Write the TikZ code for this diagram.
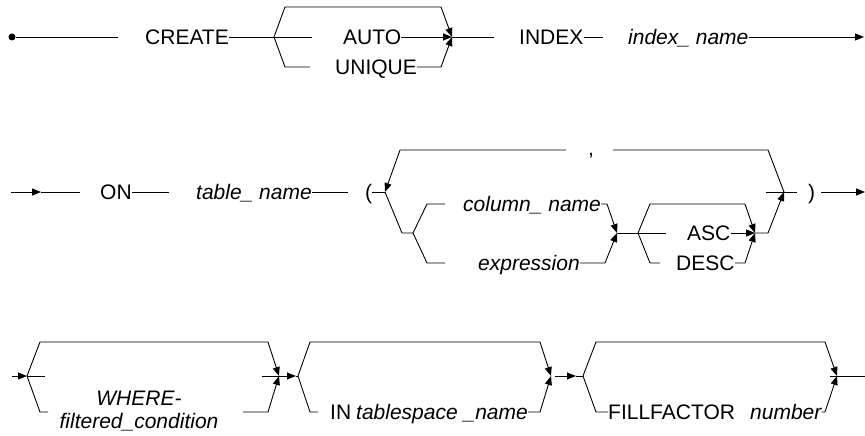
\documentclass[tikz,border=0pt]{standalone}
\usepackage{fontspec}
\setmainfont{Liberation Sans}
\usetikzlibrary{arrows.meta}
\begin{document}
\begin{tikzpicture}[x=1pt,y=-1pt,
  rr/.style={line width=0.9pt},
  arr/.style={rr,-{Triangle[length=9pt,width=7pt]}},
  kw/.style={anchor=west,inner sep=0pt,text height=15pt,text depth=0pt,font=\fontsize{21}{23}\selectfont},
  itx/.style={kw,font=\fontsize{21}{23}\selectfont\itshape},
]
\useasboundingbox (0,0) rectangle (865,436);
% ---------------- Row 1 ----------------
\node[circle,fill,inner sep=0pt,minimum size=7pt] (dot) at (12,37) {};
\coordinate (r1a) at (118,37);
\draw[rr] (dot) -- (r1a);
\node[kw] (create) at (145,37) {CREATE};
\coordinate (j1) at (274,37);
\coordinate (j2) at (452,37);
\draw[rr] (create.east) -- (j1);
\coordinate (t1a) at (285,7); \coordinate (t1b) at (441,7);
\draw[arr] (j1) -- (t1a) -- (t1b) -- (j2);
\coordinate (a1) at (312,37);
\draw[rr] (j1) -- (a1);
\node[kw] (auto) at (343,37) {AUTO};
\draw[arr] (auto.east) -- (j2);
\coordinate (u1) at (285,67); \coordinate (u2) at (310,67); \coordinate (u3) at (441,67);
\draw[rr] (j1) -- (u1) -- (u2);
\node[kw] (unique) at (335,67) {UNIQUE};
\draw[arr] (unique.east) -- (u3) -- (j2);
\coordinate (i1) at (494,37);
\draw[rr] (j2) -- (i1);
\node[kw] (index) at (519,37) {INDEX};
\coordinate (i2) at (603,37);
\draw[rr] (index.east) -- (i2);
\node[itx] (iname) at (628,37) {index\_ name};
\coordinate (r1end) at (864,37);
\draw[arr] (iname.east) -- (r1end);
% ---------------- Row 2 ----------------
\coordinate (s2) at (11,192); \coordinate (s2m) at (41,192); \coordinate (s2e) at (80,192);
\draw[arr] (s2) -- (s2m);
\draw[rr] (s2m) -- (s2e);
\node[kw] (on) at (100,192) {ON};
\coordinate (on2) at (169,192);
\draw[rr] (on.east) -- (on2);
\node[itx] (tname) at (196,192) {table\_ name};
\coordinate (tn2) at (348,192);
\draw[rr] (tname.east) -- (tn2);
\node[kw] (lpar) at (365,192) {(};
\coordinate (j3) at (385,192);
\draw[rr] (lpar.east) -- (j3);
% loop
\coordinate (j6) at (784,192);
\coordinate (lp1) at (768,150); \coordinate (lp2) at (613,150);
\coordinate (lp3) at (566,150); \coordinate (lp4) at (400,150);
\draw[rr] (j6) -- (lp1) -- (lp2);
\node[kw,anchor=center] (comma) at (591,148) {,};
\draw[arr] (lp3) -- (lp4) -- (j3);
% column / expression
\coordinate (b1) at (402,233); \coordinate (j4) at (413,233);
\draw[rr] (j3) -- (b1) -- (j4);
\coordinate (c1) at (427,204); \coordinate (c2) at (445,204);
\draw[rr] (j4) -- (c1) -- (c2);
\node[itx] (colname) at (463,204) {column\_ name};
\coordinate (j5) at (617,233);
\coordinate (c3) at (607,204);
\draw[arr] (colname.east) -- (c3) -- (j5);
\coordinate (e1) at (427,263); \coordinate (e2) at (445,263);
\draw[rr] (j4) -- (e1) -- (e2);
\node[itx] (expr) at (478,263) {expression};
\coordinate (e3) at (605,263);
\draw[arr] (expr.east) -- (e3) -- (j5);
% ASC / DESC
\coordinate (j5b) at (638,233);
\draw[rr] (j5) -- (j5b);
\coordinate (j7) at (755,233);
\coordinate (d1) at (650,204); \coordinate (d2) at (745,204);
\draw[arr] (j5b) -- (d1) -- (d2) -- (j7);
\coordinate (as1) at (666,233);
\draw[rr] (j5b) -- (as1);
\node[kw] (asc) at (687,233) {ASC};
\draw[arr] (asc.east) -- (j7);
\coordinate (de1) at (650,263); \coordinate (de2) at (660,263); \coordinate (de3) at (745,263);
\draw[rr] (j5b) -- (de1) -- (de2);
\node[kw] (desc) at (676,263) {DESC};
\draw[arr] (desc.east) -- (de3) -- (j7);
\coordinate (g1) at (768,233);
\draw[arr] (j7) -- (g1) -- (j6);
\coordinate (k1) at (766,192); \coordinate (k2) at (797,192);
\draw[rr] (k1) -- (k2);
\node[kw] (rpar) at (808,192) {)};
\coordinate (rp2) at (821,192);
\coordinate (r2end) at (865,192);
\draw[arr] (rp2) -- (r2end);
% ---------------- Row 3 ----------------
\coordinate (s3) at (12,376); \coordinate (j8) at (27,376); \coordinate (s3e) at (45,376);
\draw[arr] (s3) -- (j8);
\draw[rr] (j8) -- (s3e);
\coordinate (j9) at (279,376);
\coordinate (w1) at (40,342); \coordinate (w2) at (268,342);
\draw[arr] (j8) -- (w1) -- (w2) -- (j9);
\coordinate (w3) at (40,412); \coordinate (w4) at (48,412);
\draw[rr] (j8) -- (w3) -- (w4);
\node[inner sep=0pt,align=center,font=\fontsize{21}{23}\selectfont\itshape] (where) at (139,411) {WHERE-\\filtered\_condition};
\coordinate (w5) at (243,412); \coordinate (w6) at (268,412);
\draw[arr] (w5) -- (w6) -- (j9);
\coordinate (w7) at (262,376);
\draw[rr] (w7) -- (j9);
\coordinate (m1) at (296,376); \coordinate (j10) at (298,376);
\draw[arr] (j9) -- (m1);
\draw[rr] (m1) -- (j10);
\coordinate (j11) at (551,376);
\coordinate (n1) at (310,342); \coordinate (n2) at (540,342);
\draw[arr] (j10) -- (n1) -- (n2) -- (j11);
\coordinate (n3) at (310,412); \coordinate (n4) at (318,412);
\draw[rr] (j10) -- (n3) -- (n4);
\node[kw] (in) at (330,412) {IN};
\node[itx] (tsname) at (356,412) {tablespace \_name};
\coordinate (n5) at (540,412);
\draw[arr] (tsname.east) -- (n5) -- (j11);
\coordinate (m2a) at (555,376); \coordinate (m2) at (576,376); \coordinate (j12) at (583,376);
\draw[arr] (m2a) -- (m2);
\draw[rr] (m2) -- (j12);
\coordinate (j13) at (837,376);
\coordinate (f1) at (596,342); \coordinate (f2) at (825,342);
\draw[arr] (j12) -- (f1) -- (f2) -- (j13);
\coordinate (f3) at (596,412);
\node[kw] (fill) at (608,412) {FILLFACTOR};
\draw[rr] (j12) -- (f3) -- (fill.west);
\node[itx] (num) at (750,412) {number};
\coordinate (f4) at (825,412);
\draw[arr] (num.east) -- (f4) -- (j13);
\coordinate (f5) at (830,376); \coordinate (r3end) at (865,376);
\draw[rr] (f5) -- (r3end);
\end{tikzpicture}
\end{document}
